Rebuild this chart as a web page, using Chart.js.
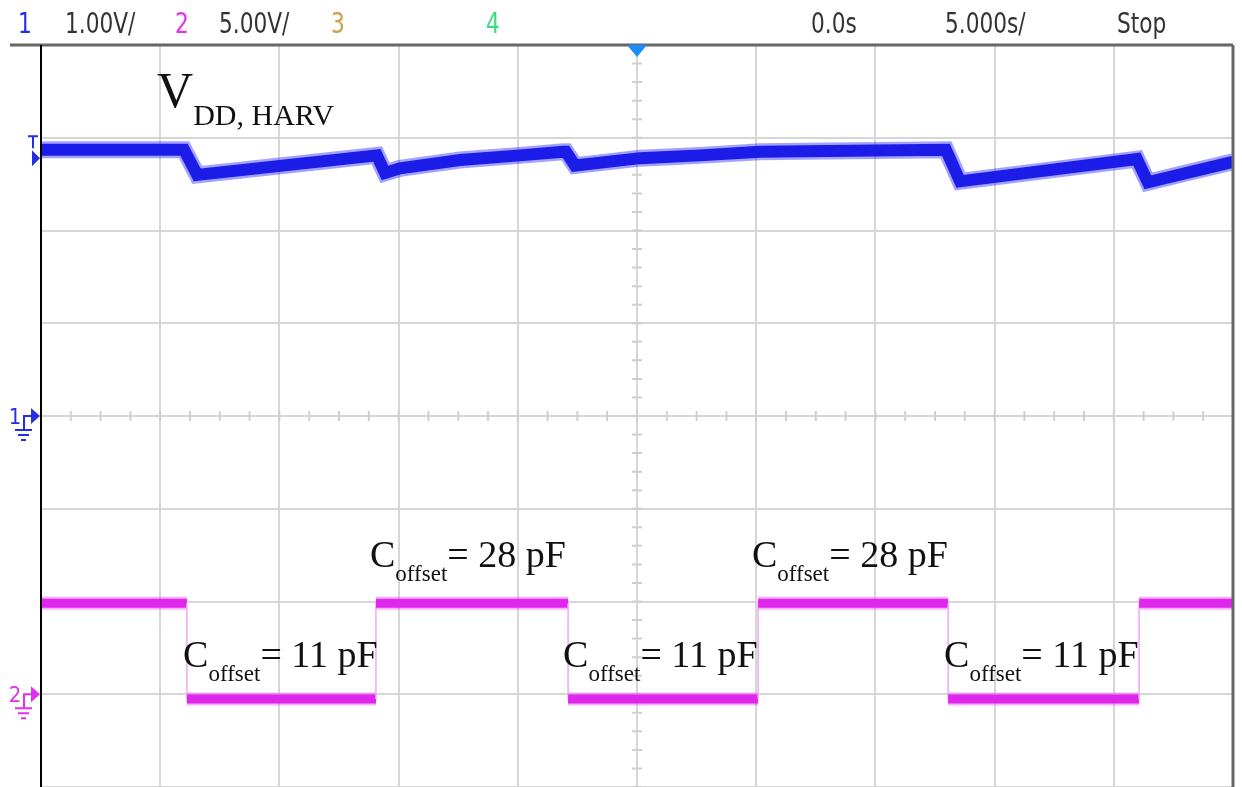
<!DOCTYPE html>
<html lang="en">
<head>
  <meta charset="UTF-8">
  <title>Scope capture - VDD,HARV and Coffset</title>
  <script src="https://cdn.jsdelivr.net/npm/chart.js"></script>
  <style>
    body {
      margin: 0;
      background: #fff;
    }

    #wrap {
      width: 1242px;
      height: 787px;
    }
  </style>
</head>
<body>

<div id="wrap"><canvas id="scope"></canvas></div>

<script>
  // Channel 1: VDD,HARV (1.00 V/div), time in s, volts
  const ch1Time  = [-25, -19.0, -18.45, -10.91, -10.57, -9.94, -7.42, -4.91, -3.10, -2.98, -2.60, 0.13, 2.64, 5.16, 8.93, 12.96, 13.55, 20.97, 21.43, 23.2, 25];
  const ch1Volts = [2.87, 2.87, 2.60, 2.81, 2.62, 2.67, 2.76, 2.81, 2.85, 2.85, 2.70, 2.78, 2.81, 2.85, 2.86, 2.87, 2.53, 2.77, 2.52, 2.63, 2.74];

  // Channel 2: Coffset control (5.00 V/div)
  const ch2Time  = [-25, -18.88, -18.88, -10.95, -10.95, -2.89, -2.89, 5.08, 5.08, 13.05, 13.05, 21.06, 21.06, 25];
  const ch2Volts = [4.9, 4.9, -0.25, -0.25, 4.9, 4.9, -0.25, -0.25, 4.9, 4.9, -0.25, -0.25, 4.9, 4.9];

  // status line of the scope
  const headerLabels = ['1', '1.00V/', '2', '5.00V/', '3', '4', '0.0s', '5.000s/', 'Stop'];
  const headerColors = ['#2430e0', '#333', '#e030ee', '#333', '#c8a048', '#38dc82', '#333', '#333', '#333'];

  // annotations: main letter, subscript, rest, anchor time, anchor value, axis
  const noteMain = ['V', 'C', 'C', 'C', 'C', 'C'];
  const noteSub  = ['DD, HARV', 'offset', 'offset', 'offset', 'offset', 'offset'];
  const noteRest = ['', '= 28 pF', '= 28 pF', '= 11 pF', '= 11 pF', '= 11 pF'];
  const noteTime = [-20.13, -11.2, 4.82, -19.04, -3.10, 12.88];
  const noteVal  = [3.33, 6.85, 6.85, 1.46, 1.46, 1.46];
  const noteAxis = ['y', 'y2', 'y2', 'y2', 'y2', 'y2'];

  const triggerLevel = 2.78;

  const toXY = (xs, ys) => xs.map((x, i) => ({ x: x, y: ys[i] }));
  const isEdge = c => c.p0.parsed.x === c.p1.parsed.x;

  const narrow = '"Liberation Sans Narrow", "DejaVu Sans Condensed", sans-serif';
  const serif = '"Liberation Serif", "DejaVu Serif", serif';

  function drawSubText(ctx, x, y, main, sub, rest, big, small, drop) {
    ctx.fillStyle = '#111';
    ctx.textAlign = 'left';
    ctx.textBaseline = 'alphabetic';
    ctx.font = big + 'px ' + serif;
    ctx.fillText(main, x, y);
    let cx = x + ctx.measureText(main).width;
    ctx.font = small + 'px ' + serif;
    ctx.fillText(sub, cx, y + drop);
    cx += ctx.measureText(sub).width;
    ctx.font = big + 'px ' + serif;
    ctx.fillText(rest, cx, y);
  }

  function groundMarker(ctx, label, color, left, y) {
    ctx.save();
    ctx.fillStyle = color;
    ctx.strokeStyle = color;
    ctx.lineWidth = 2;
    ctx.font = '22px ' + narrow;
    ctx.textAlign = 'center';
    ctx.textBaseline = 'alphabetic';
    ctx.fillText(label, left - 26, y + 8);
    ctx.beginPath();
    ctx.moveTo(left - 10, y - 8);
    ctx.lineTo(left - 1, y);
    ctx.lineTo(left - 10, y + 8);
    ctx.closePath();
    ctx.fill();
    ctx.beginPath();
    ctx.moveTo(left - 10, y);
    ctx.lineTo(left - 17, y);
    ctx.lineTo(left - 17, y + 14);
    ctx.moveTo(left - 26, y + 14);
    ctx.lineTo(left - 9, y + 14);
    ctx.moveTo(left - 23, y + 19);
    ctx.lineTo(left - 12, y + 19);
    ctx.moveTo(left - 20, y + 24);
    ctx.lineTo(left - 15, y + 24);
    ctx.stroke();
    ctx.restore();
  }

  const scopeDecor = {
    id: 'scopeDecor',
    beforeDatasetsDraw(chart) {
      // minor ticks along the two centre lines
      const ctx = chart.ctx;
      const xs = chart.scales.x, ys = chart.scales.y;
      const cx = xs.getPixelForValue(0), cy = ys.getPixelForValue(0);
      ctx.save();
      ctx.strokeStyle = '#cfcfcf';
      ctx.lineWidth = 2;
      ctx.beginPath();
      for (let t = xs.min; t <= xs.max + 0.001; t += 1.25) {
        const px = xs.getPixelForValue(t);
        ctx.moveTo(px, cy - 5);
        ctx.lineTo(px, cy + 5);
      }
      for (let v = ys.min; v <= ys.max + 0.001; v += 0.2) {
        const py = ys.getPixelForValue(v);
        ctx.moveTo(cx - 5, py);
        ctx.lineTo(cx + 5, py);
      }
      ctx.stroke();
      ctx.restore();
    },
    afterDraw(chart) {
      const ctx = chart.ctx;
      const a = chart.chartArea;
      const xs = chart.scales.x, ys = chart.scales.y, y2 = chart.scales.y2;
      ctx.save();

      // frame
      ctx.strokeStyle = '#666';
      ctx.lineWidth = 3;
      ctx.beginPath();
      ctx.moveTo(10, a.top);
      ctx.lineTo(a.right, a.top);
      ctx.moveTo(a.right, a.top);
      ctx.lineTo(a.right, a.bottom);
      ctx.stroke();
      ctx.strokeStyle = '#000';
      ctx.lineWidth = 2;
      ctx.beginPath();
      ctx.moveTo(a.left, a.top);
      ctx.lineTo(a.left, a.bottom);
      ctx.stroke();

      // header line, condensed like the scope font
      const headerX = [18, 65, 175, 219, 331, 486, 811, 945, 1117];
      ctx.font = '28px ' + narrow;
      ctx.textBaseline = 'alphabetic';
      ctx.textAlign = 'left';
      headerLabels.forEach((s, i) => {
        ctx.save();
        ctx.translate(headerX[i], 33);
        ctx.scale(0.86, 1);
        ctx.fillStyle = headerColors[i];
        ctx.fillText(s, 0, 0);
        ctx.restore();
      });

      // trigger position marker
      const tx = xs.getPixelForValue(0);
      ctx.fillStyle = '#1c8cff';
      ctx.beginPath();
      ctx.moveTo(tx - 10, a.top);
      ctx.lineTo(tx + 10, a.top);
      ctx.lineTo(tx, a.top + 12);
      ctx.closePath();
      ctx.fill();

      // trigger level marker
      const ty = ys.getPixelForValue(triggerLevel);
      ctx.fillStyle = '#2430e0';
      ctx.strokeStyle = '#2430e0';
      ctx.lineWidth = 2;
      ctx.beginPath();
      ctx.moveTo(a.left - 13, ty - 22);
      ctx.lineTo(a.left - 3, ty - 22);
      ctx.moveTo(a.left - 8, ty - 22);
      ctx.lineTo(a.left - 8, ty - 10);
      ctx.stroke();
      ctx.beginPath();
      ctx.moveTo(a.left - 9, ty - 8);
      ctx.lineTo(a.left - 1, ty);
      ctx.lineTo(a.left - 9, ty + 8);
      ctx.closePath();
      ctx.fill();

      groundMarker(ctx, '1', '#2430e0', a.left, ys.getPixelForValue(0));
      groundMarker(ctx, '2', '#e030ee', a.left, y2.getPixelForValue(0));

      // annotations
      noteMain.forEach((m, i) => {
        const px = xs.getPixelForValue(noteTime[i]);
        const py = chart.scales[noteAxis[i]].getPixelForValue(noteVal[i]);
        if (i === 0) {
          drawSubText(ctx, px, py, m, noteSub[i], noteRest[i], 50, 30, 18);
        } else {
          drawSubText(ctx, px, py, m, noteSub[i], noteRest[i], 38, 23, 14);
        }
      });
      ctx.restore();
    }
  };

  const gridStyle = {
    color: '#d6d6d6',
    lineWidth: 2,
    drawTicks: false
  };

  const ctx = document.getElementById('scope').getContext('2d');
  const chart = new Chart(ctx, {
    type: 'line',
    data: {
      datasets: [
        {
          label: 'VDD,HARV',
          data: toXY(ch1Time, ch1Volts),
          yAxisID: 'y',
          borderColor: '#1c1ce8',
          borderWidth: 12,
          pointRadius: 0,
          order: 1
        },
        {
          label: 'VDD,HARV halo',
          data: toXY(ch1Time, ch1Volts),
          yAxisID: 'y',
          borderColor: 'rgba(50, 50, 255, 0.45)',
          borderWidth: 17,
          pointRadius: 0,
          order: 2
        },
        {
          label: 'Coffset',
          data: toXY(ch2Time, ch2Volts),
          yAxisID: 'y2',
          borderColor: '#e026ec',
          borderWidth: 9,
          borderCapStyle: 'butt',
          pointRadius: 0,
          order: 1,
          segment: {
            borderWidth: c => isEdge(c) ? 1.5 : undefined,
            borderColor: c => isEdge(c) ? '#f0a6f4' : undefined
          }
        },
        {
          label: 'Coffset halo',
          data: toXY(ch2Time, ch2Volts),
          yAxisID: 'y2',
          borderColor: 'rgba(230, 60, 240, 0.4)',
          borderWidth: 13,
          borderCapStyle: 'butt',
          pointRadius: 0,
          order: 2,
          segment: {
            borderColor: c => isEdge(c) ? 'rgba(0,0,0,0)' : undefined
          }
        }
      ]
    },
    options: {
      responsive: true,
      maintainAspectRatio: false,
      animation: false,
      layout: {
        padding: { left: 41, right: 9, top: 45, bottom: 0 }
      },
      plugins: {
        legend: { display: false },
        tooltip: { enabled: false }
      },
      scales: {
        x: {
          type: 'linear',
          min: -25,
          max: 25,
          ticks: { display: false, stepSize: 5 },
          grid: gridStyle,
          border: { display: false }
        },
        y: {
          min: -4,
          max: 4,
          ticks: { display: false, stepSize: 1 },
          grid: gridStyle,
          border: { display: false }
        },
        y2: {
          display: false,
          min: -5,
          max: 35
        }
      }
    },
    plugins: [scopeDecor]
  });
</script>

</body>
</html>
